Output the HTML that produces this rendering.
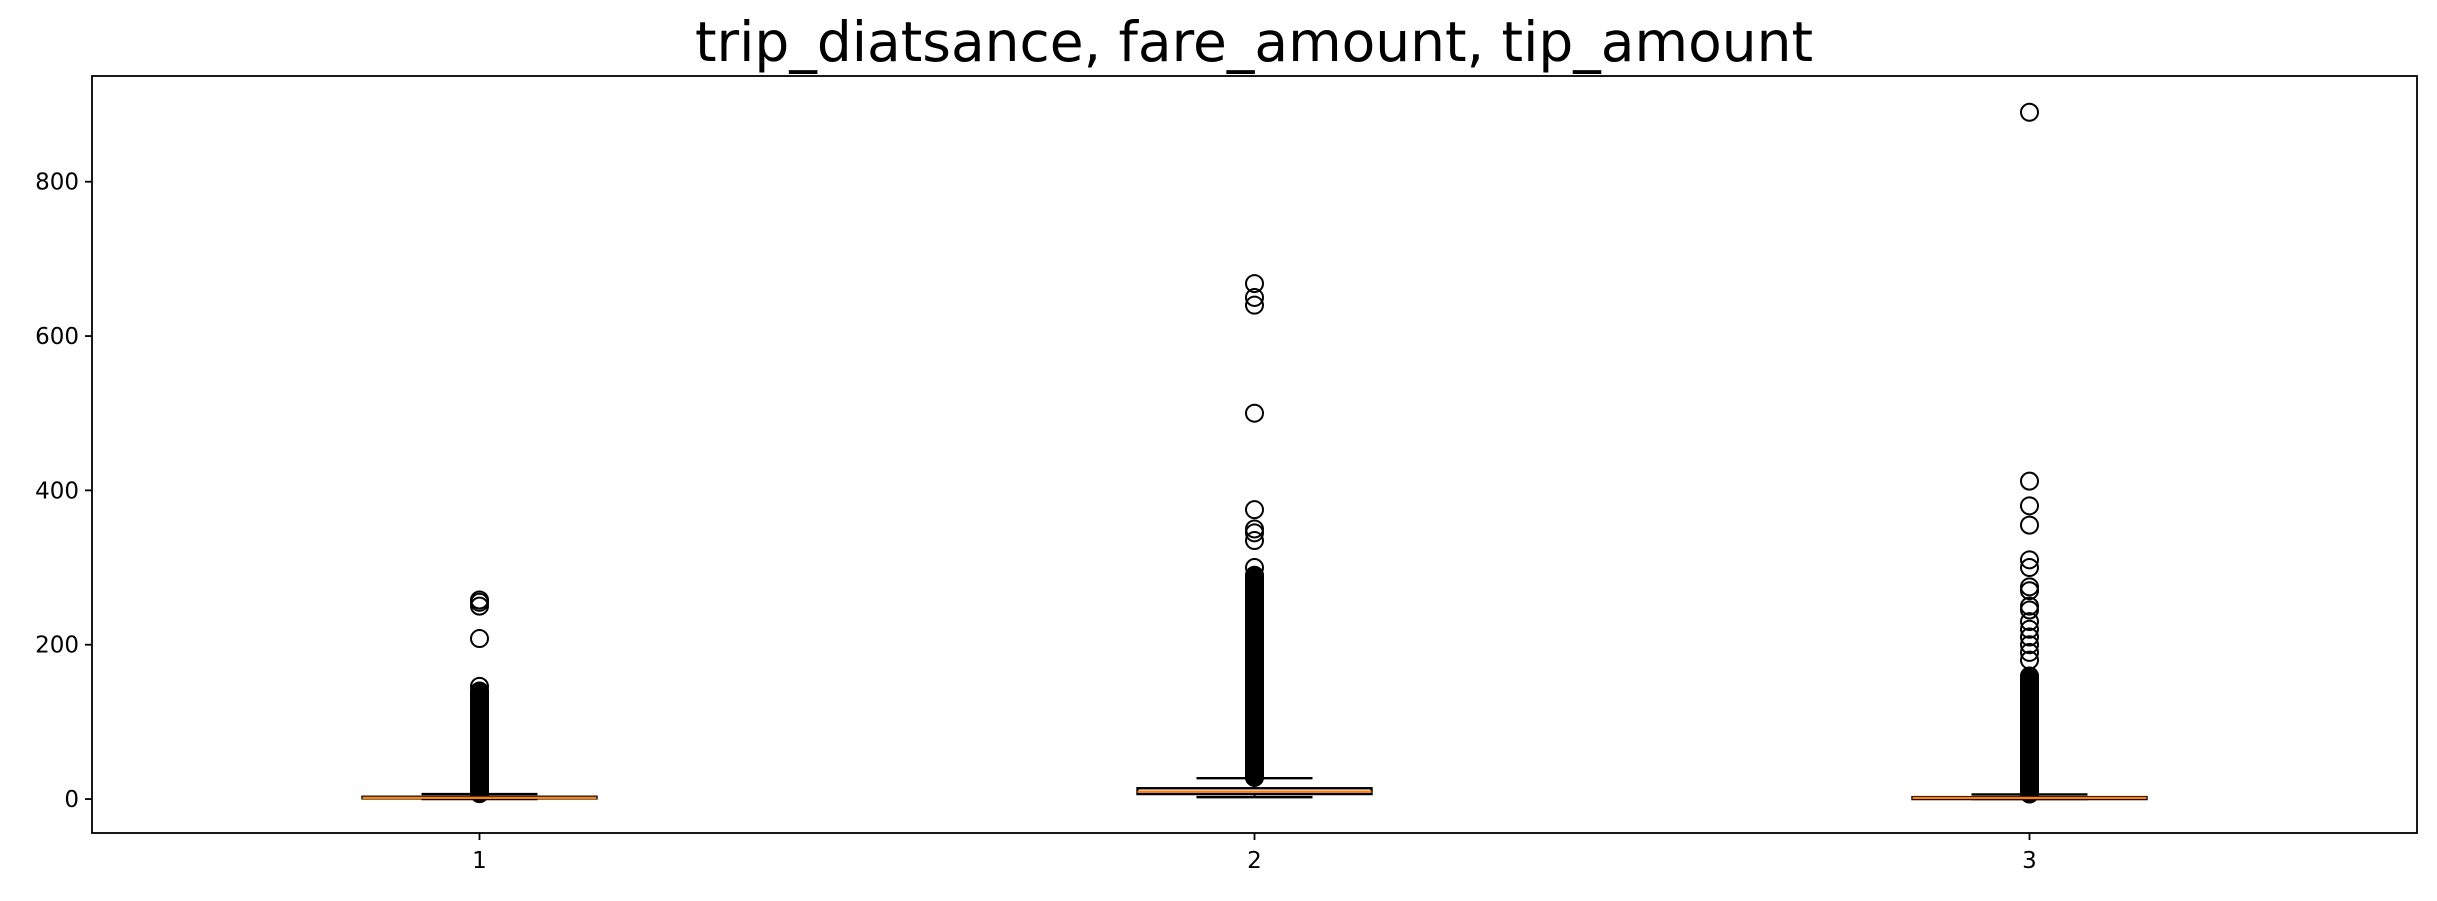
<!DOCTYPE html>
<html><head><meta charset="utf-8">
<style>
html,body{margin:0;padding:0;background:#fff;}
svg{display:block;font-family:"DejaVu Sans","Liberation Sans",sans-serif;}
</style></head>
<body>
<svg id="chart" width="2437" height="901" viewBox="0 0 2437 901" xmlns="http://www.w3.org/2000/svg">
<rect width="2437" height="901" fill="#fff"/>
<text x="1254" y="61" font-size="55" text-anchor="middle">trip_diatsance, fare_amount, tip_amount</text>
<g id="plot"></g>
<rect x="92" y="76" width="2325" height="757" fill="none" stroke="#000" stroke-width="1.8"/>
</svg>
<script>
const categories = ["1","2","3"];
const q1s = [0.9, 6.5, 0];
const medians = [1.6, 9.5, 1.5];
const q3s = [3, 14, 2.5];
const whiskLow = [0, 2.5, 0];
const whiskHigh = [6.5, 27, 6];
const denseLow = [7, 28, 6.5];
const denseHigh = [140, 290, 160];
const fliers1 = [146, 208, 250, 255, 258];
const fliers2 = [300, 335, 345, 350, 375, 500, 640, 650, 668];
const fliers3 = [180, 190, 200, 210, 220, 230, 245, 250, 270, 275, 300, 310, 355, 380, 412, 890];
const sparseFliers = [fliers1, fliers2, fliers3];
const yTicks = [0, 200, 400, 600, 800];

const L = 92, R = 2417, T = 76, B = 833;
const yMin = -44, yMax = 937;
const xScale = i => L + (i + 0.5) / categories.length * (R - L);
const yScale = v => B - (v - yMin) / (yMax - yMin) * (B - T);
const NS = "http://www.w3.org/2000/svg";
const g = document.getElementById('plot');
function mk(tag, attrs) {
  const e = document.createElementNS(NS, tag);
  for (const k in attrs) e.setAttribute(k, attrs[k]);
  g.appendChild(e);
  return e;
}
yTicks.forEach(t => {
  const y = yScale(t);
  const tk = mk('line', {x1: L - 7, x2: L, y1: y, y2: y, stroke: '#000', 'stroke-width': 1.8});
  
  
  const lb = mk('text', {x: L - 13, y: y + 8, 'font-size': 23, 'text-anchor': 'end'});
  lb.textContent = t;
  
  
});
categories.forEach((c, i) => {
  const x = xScale(i);
  const tk = mk('line', {x1: x, x2: x, y1: B, y2: B + 7, stroke: '#000', 'stroke-width': 1.8});
  
  
  const lb = mk('text', {x: x, y: B + 35, 'font-size': 23, 'text-anchor': 'middle'});
  lb.textContent = c;
  
  
  const hw = 117, cw = 58;
  for (let v = denseLow[i]; v <= denseHigh[i]; v += 1) {
    const f = mk('circle', {cx: x, cy: yScale(v), r: 8.5, fill: 'none', stroke: '#000', 'stroke-width': 2});
    
    
  }
  sparseFliers[i].forEach(v => {
    const f = mk('circle', {cx: x, cy: yScale(v), r: 8.5, fill: 'none', stroke: '#000', 'stroke-width': 2});
    
    
  });
  const w1 = mk('line', {x1: x, x2: x, y1: yScale(q3s[i]), y2: yScale(whiskHigh[i]), stroke: '#000', 'stroke-width': 2});
  
  
  const w2 = mk('line', {x1: x, x2: x, y1: yScale(q1s[i]), y2: yScale(whiskLow[i]), stroke: '#000', 'stroke-width': 2});
  
  
  const c1 = mk('line', {x1: x - cw, x2: x + cw, y1: yScale(whiskHigh[i]), y2: yScale(whiskHigh[i]), stroke: '#000', 'stroke-width': 2.4});
  
  
  const c2 = mk('line', {x1: x - cw, x2: x + cw, y1: yScale(whiskLow[i]), y2: yScale(whiskLow[i]), stroke: '#000', 'stroke-width': 2.4});
  
  
  const yt = yScale(q3s[i]), yb = yScale(q1s[i]);
  const bx = mk('rect', {x: x - hw, y: yt, width: 2 * hw, height: Math.max(yb - yt, 1), fill: 'none', stroke: '#000', 'stroke-width': 2.4});
  
  
  const md = mk('line', {x1: x - hw, x2: x + hw, y1: yScale(medians[i]), y2: yScale(medians[i]), stroke: '#ff7f0e', 'stroke-width': 2.4});
  
  
});
</script>
</body></html>
